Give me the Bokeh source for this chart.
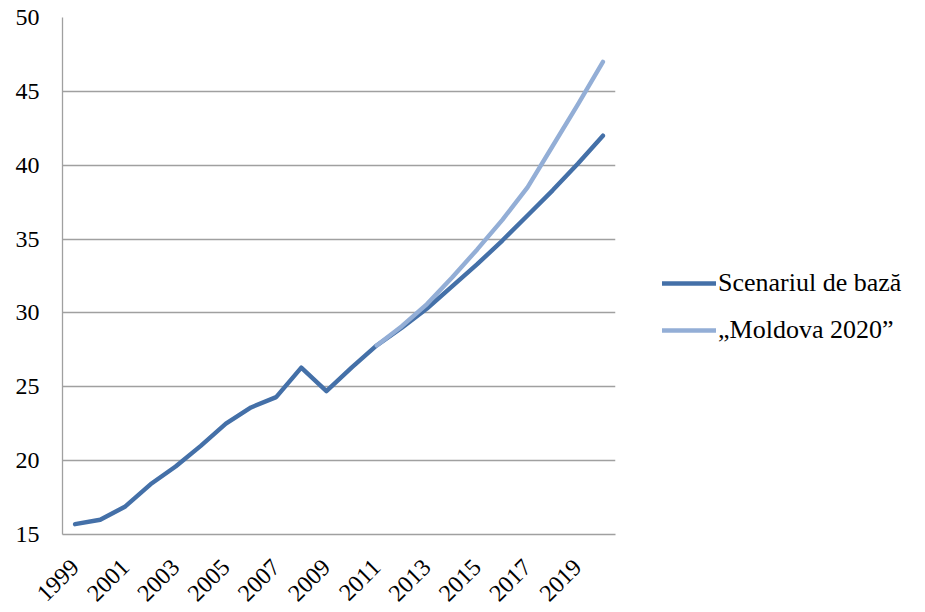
from bokeh.plotting import figure
from bokeh.models import FixedTicker, Legend, LegendItem
from bokeh.embed import file_html
from bokeh.resources import INLINE
import math

# Years and the two GDP paths
years = list(range(1999, 2021))
baseline = [15.7, 16.0, 16.9, 18.4, 19.6, 21.0, 22.5, 23.6, 24.3, 26.3, 24.7,
            26.3, 27.8, 29.0, 30.3, 31.8, 33.3, 34.9, 36.6, 38.3, 40.1, 42.0]
moldova_years = list(range(2011, 2021))
moldova_2020 = [27.8, 29.1, 30.6, 32.4, 34.3, 36.3, 38.5, 41.3, 44.1, 47.0]

x_ticks = list(range(1999, 2020, 2))
y_ticks = [15, 20, 25, 30, 35, 40, 45, 50]
series_names = ["Scenariul de bază", "\u201eMoldova 2020\u201d"]

DARK = "#4470A8"
LIGHT = "#93AED6"
GRID = "#A0A0A0"
FONT = "Liberation Serif"

p = figure(frame_width=553, frame_height=517,
           output_backend="svg", toolbar_location=None,
           x_range=(1998.5, 2020.5), y_range=(15, 50),
           min_border_left=62, min_border_right=10,
           min_border_top=17, min_border_bottom=60)
p.outline_line_color = None
p.background_fill_color = "white"

r1 = p.line(years, baseline, line_color=DARK, line_width=4.4,
            line_join="round", line_cap="round")
r2 = p.line(moldova_years, moldova_2020, line_color=LIGHT, line_width=4.4,
            line_join="round", line_cap="round")

p.xgrid.visible = False
p.ygrid.grid_line_color = GRID
p.ygrid.grid_line_width = 1.3
p.ygrid.ticker = FixedTicker(ticks=y_ticks)

p.xaxis.ticker = FixedTicker(ticks=x_ticks)
p.yaxis.ticker = FixedTicker(ticks=y_ticks)
for ax in (p.xaxis[0], p.yaxis[0]):
    ax.axis_line_color = GRID
    ax.axis_line_width = 1.3
    ax.major_tick_line_color = None
    ax.minor_tick_line_color = None
    ax.major_label_text_font = FONT
    ax.major_label_text_font_size = "24px"
    ax.major_label_text_color = "black"
p.yaxis.major_label_standoff = 17
p.xaxis.major_label_standoff = 23
p.xaxis.major_label_orientation = math.pi / 4

legend = Legend(items=[LegendItem(label=series_names[0], renderers=[r1]),
                       LegendItem(label=series_names[1], renderers=[r2])],
                location=(47, 189), orientation="vertical")
legend.border_line_color = None
legend.background_fill_alpha = 0
legend.padding = 0
legend.margin = 0
legend.spacing = 17
legend.glyph_width = 54
legend.label_standoff = 2
legend.label_text_font = FONT
legend.label_text_font_size = "26px"
legend.label_text_color = "black"
p.add_layout(legend, "right")

open("out.html", "w").write(file_html(p, INLINE))
